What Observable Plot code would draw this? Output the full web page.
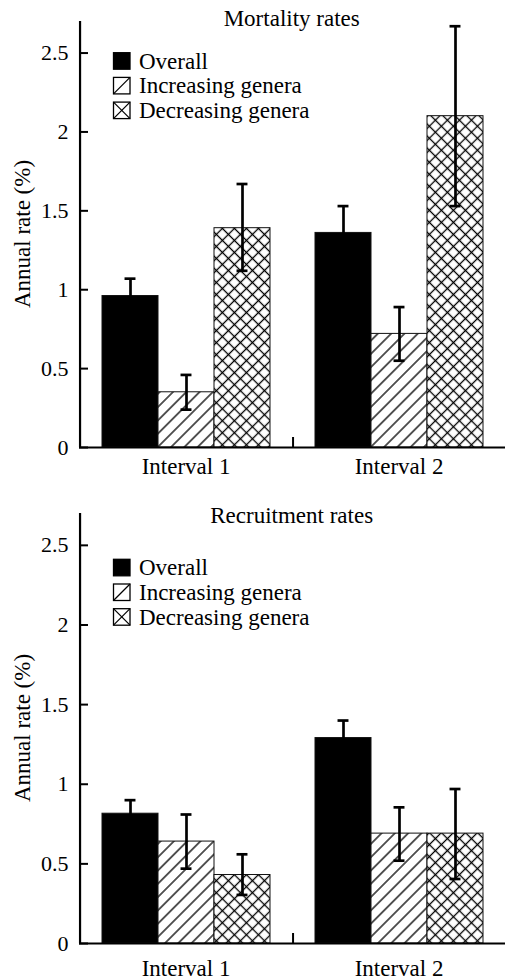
<!DOCTYPE html>
<html><head><meta charset="utf-8">
<script src="https://cdn.jsdelivr.net/npm/d3@7"></script>
<script src="https://cdn.jsdelivr.net/npm/@observablehq/plot@0.6"></script>
<style>
body{margin:0;background:#fff;}
.panel{position:relative;width:505px;height:490px;overflow:hidden;}
.panel svg.overlay{position:absolute;left:0;top:0;pointer-events:none;}
.panel svg text{font-family:'Liberation Serif', serif !important;fill:#000;}
</style></head><body>
<svg width="0" height="0" style="position:absolute">
<defs>
<pattern id="hatch" patternUnits="userSpaceOnUse" width="9.4" height="9.4" patternTransform="rotate(45)">
<rect width="9.4" height="9.4" fill="#fff"/>
<line x1="4.7" y1="-1" x2="4.7" y2="10.4" stroke="#000" stroke-width="1.3"/>
</pattern>
<pattern id="cross" patternUnits="userSpaceOnUse" width="8.5" height="8.5" patternTransform="rotate(45)">
<rect width="8.5" height="8.5" fill="#fff"/>
<line x1="4.25" y1="-1" x2="4.25" y2="9.5" stroke="#000" stroke-width="1.3"/>
<line x1="-1" y1="4.25" x2="9.5" y2="4.25" stroke="#000" stroke-width="1.3"/>
</pattern>
</defs>
</svg>
<div id="top" class="panel"></div>
<div id="bottom" class="panel"></div>
<script>
const intervals = ["Interval 1", "Interval 2"];
const series = ["Overall", "Increasing genera", "Decreasing genera"];
const seriesFill = ["#000", "url(#hatch)", "url(#cross)"];
const yTicks = [0, 0.5, 1, 1.5, 2, 2.5];
const yTickLabels = ["0", "0.5", "1", "1.5", "2", "2.5"];
const yLabel = "Annual rate (%)";

// Mortality rates (rows: interval, columns: series)
const mortMean = [[0.96, 0.35, 1.39], [1.36, 0.72, 2.10]];
const mortLo   = [[0.85, 0.24, 1.12], [1.20, 0.55, 1.53]];
const mortHi   = [[1.07, 0.46, 1.67], [1.53, 0.89, 2.67]];

// Recruitment rates
const recMean = [[0.815, 0.64, 0.43], [1.29, 0.69, 0.69]];
const recLo   = [[0.73, 0.47, 0.305], [1.18, 0.52, 0.405]];
const recHi   = [[0.90, 0.81, 0.56], [1.40, 0.855, 0.97]];

function rows(mean, lo, hi) {
  return intervals.flatMap((iv, i) => series.map((s, j) => ({interval: iv, series: s, value: mean[i][j], lo: lo[i][j], hi: hi[i][j]})));
}

const W = 505, H = 490, ML = 79, MR = 0, padOuter = 0.4;
const facetW = (W - ML - MR) / intervals.length;
const step = facetW / (series.length + 2 * padOuter);
const toFacetEdge = -(padOuter * step + step / 2);

function panel(el, title, mean, lo, hi, cfg) {
  const data = rows(mean, lo, hi);
  const frameH = H - cfg.mt - cfg.mb;
  const chart = Plot.plot({
    width: W, height: H,
    marginLeft: ML, marginRight: MR, marginTop: cfg.mt, marginBottom: cfg.mb,
    style: {fontFamily: "'Liberation Serif', serif", fontSize: "22px", color: "#000", background: "transparent", overflow: "visible"},
    fx: {domain: intervals, padding: 0, label: null},
    x: {domain: series, paddingInner: 0, paddingOuter: padOuter, axis: null},
    y: {domain: [0, 2.7], axis: null},
    color: {type: "ordinal", domain: series, range: seriesFill},
    marks: [
      Plot.barY(data, {fx: "interval", x: "series", y: "value", fill: "series", stroke: "#111", strokeWidth: 1}),
      Plot.ruleX(data, {fx: "interval", x: "series", y1: "lo", y2: "hi", stroke: "#000", strokeWidth: 2.7}),
      Plot.tickY(data, {fx: "interval", x: "series", y: "hi", stroke: "#000", strokeWidth: 2.7, insetLeft: (step - 11) / 2, insetRight: (step - 11) / 2}),
      Plot.tickY(data, {fx: "interval", x: "series", y: "lo", stroke: "#000", strokeWidth: 2.7, insetLeft: (step - 11) / 2, insetRight: (step - 11) / 2}),
      Plot.ruleY([0], {stroke: "#000", strokeWidth: 2.2}),
      // y-axis line at the left edge of the first facet
      Plot.ruleX([{interval: intervals[0], series: series[0]}], {fx: "interval", x: "series", stroke: "#000", strokeWidth: 2.2, dx: toFacetEdge}),
      // tick between the two intervals
      Plot.ruleX([{interval: intervals[1], series: series[0]}], {fx: "interval", x: "series", stroke: "#000", strokeWidth: 2, dx: toFacetEdge, insetTop: frameH - 10}),
      Plot.axisY({ticks: yTicks, tickFormat: d => yTickLabels[yTicks.indexOf(d)], tickSize: -9, tickPadding: 20, strokeWidth: 2, label: null, fontSize: 22}),
      Plot.axisFx({anchor: "bottom", tickSize: 0, tickPadding: cfg.xpad, label: null, fontSize: 23})
    ]
  });
  el.appendChild(chart);

  const ov = d3.select(el).append("svg").attr("class", "overlay").attr("width", W).attr("height", H)
    .style("font-family", "'Liberation Serif', serif").style("font-size", "23px");
  ov.append("text").attr("x", 291.7).attr("y", cfg.titleY).attr("text-anchor", "middle").text(title);
  ov.append("text").attr("transform", `translate(30,${(cfg.mt + H - cfg.mb) / 2}) rotate(-90)`).attr("text-anchor", "middle").text(yLabel);
  series.forEach((s, i) => {
    const y0 = cfg.legY + i * 24.7;
    const g = ov.append("g").attr("transform", `translate(113.5,${y0})`);
    const sw = 16.5;
    g.append("rect").attr("width", sw).attr("height", sw).attr("fill", i === 0 ? "#000" : "#fff").attr("stroke", "#000").attr("stroke-width", 1.3);
    if (i >= 1) g.append("line").attr("x1", 0).attr("y1", sw).attr("x2", sw).attr("y2", 0).attr("stroke", "#000").attr("stroke-width", 1.2);
    if (i === 2) g.append("line").attr("x1", 0).attr("y1", 0).attr("x2", sw).attr("y2", sw).attr("stroke", "#000").attr("stroke-width", 1.2);
    ov.append("text").attr("x", 139).attr("y", y0 + 16).text(s);
  });
}

panel(document.getElementById("top"), "Mortality rates", mortMean, mortLo, mortHi, {mt: 21, mb: 43, xpad: 10, titleY: 26, legY: 52.7});
panel(document.getElementById("bottom"), "Recruitment rates", recMean, recLo, recHi, {mt: 23, mb: 37, xpad: 16, titleY: 33, legY: 69.3});
</script>
</body></html>
